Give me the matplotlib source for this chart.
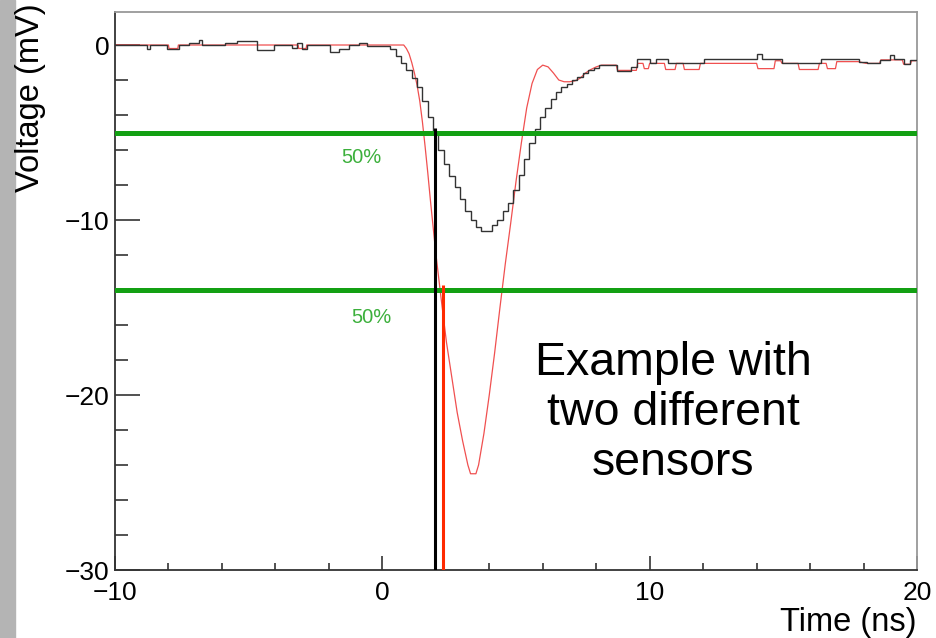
"""
Two sensor pulses with 50% threshold crossings (ROOT-style waveform plot).
"""

import numpy as np
import matplotlib
matplotlib.use("Agg")
import matplotlib.pyplot as plt
from matplotlib.patches import Rectangle

plt.rcParams['font.family'] = ['Liberation Sans', 'DejaVu Sans']

# sensor 1 (black, histogram-like trace)
black_base_edges = [-10, -8.8, -8.68, -8.05, -7.62, -7.25, -6.85, -6.75, -5.87, -5.44, -4.69,
                    -4.07, -3.38, -3.2, -3.0, -2.82, -1.95, -1.63, -1.26, -0.89, -0.57, 0.1]
black_base_vals = [0, -0.2, 0, -0.2, 0, 0.1, 0.3, 0, 0.1, 0.25, -0.3,
                   0, -0.15, 0.1, -0.2, 0, -0.4, -0.2, 0, 0.1, -0.05]
black_pulse_vals = [-0.05, -0.2, -0.6, -1.0, -1.4, -1.9, -2.4, -3.2, -4.1, -5.1,
                    -6.0, -6.8, -7.5, -8.1, -8.8, -9.5, -10.0, -10.4, -10.6, -10.6,
                    -10.3, -10.0, -9.5, -9.0, -8.3, -7.4, -6.5, -5.6, -4.8, -4.1,
                    -3.6, -3.1, -2.7, -2.4, -2.2, -2.0, -1.8, -1.6, -1.4, -1.3, -1.15]
black_tail_edges = [8.3, 8.78, 9.3, 9.53, 10.03, 10.25, 10.68, 11.15, 12.05, 12.96, 13.5, 14.02,
                    14.2, 14.95, 16.4, 17.82, 18.13, 18.63, 19.0, 19.13, 19.5, 19.75, 20.0]
black_tail_vals = [-1.15, -1.5, -1.25, -0.8, -1.05, -0.8, -1.0, -1.05, -0.78, -0.82, -0.78,
                   -0.5, -0.82, -1.05, -0.82, -0.95, -1.05, -0.85, -0.55, -0.82, -1.1, -0.85]

# sensor 2 (red trace)
red_t = [-10, -8.0, -7.98, -7.65, -7.63, -3.15, -3.13, -2.85, -2.83, 0.8,
         0.9, 1.0, 1.1, 1.2, 1.3, 1.4, 1.5, 1.6, 1.7, 1.8, 1.9, 2.0,
         2.2, 2.4, 2.6, 2.8, 3.0, 3.2, 3.3, 3.5, 3.6, 3.8, 4.0, 4.2, 4.4, 4.6,
         4.8, 5.0, 5.2, 5.4, 5.6, 5.8, 6.0, 6.2, 6.4, 6.6, 6.8, 7.0, 7.2, 7.4,
         7.6, 7.8, 8.0, 8.2,
         8.75, 8.8, 9.5, 9.55, 9.75, 9.8, 9.95, 10.0, 10.55, 10.6, 10.95, 11.0,
         11.25, 11.3, 11.85, 11.9, 14.0, 14.05, 14.65, 14.7, 14.9, 14.95, 15.55,
         15.6, 16.3, 16.35, 16.6, 16.65, 16.95, 17.0, 17.8, 18.1, 18.6, 18.65,
         19.45, 19.5, 19.75, 19.8, 20.0]
red_v = [0, 0, -0.2, -0.2, 0, 0, -0.2, -0.2, 0, 0,
         -0.2, -0.5, -1.0, -1.6, -2.3, -3.2, -4.4, -5.8, -7.3, -8.9, -10.4, -11.9,
         -14.5, -17.0, -19.0, -21.0, -22.6, -24.0, -24.5, -24.5, -24.0, -22.2, -20.0, -17.6, -15.0, -12.5,
         -10.2, -7.8, -5.6, -3.6, -2.2, -1.4, -1.15, -1.25, -1.6, -2.0, -2.1, -2.1, -2.05, -1.9,
         -1.6, -1.4, -1.25, -1.15,
         -1.15, -1.45, -1.45, -1.05, -1.05, -1.35, -1.35, -1.05, -1.05, -1.4, -1.4, -1.05,
         -1.05, -1.4, -1.4, -1.05, -1.05, -1.35, -1.35, -0.9, -0.9, -1.05, -1.05,
         -1.4, -1.4, -1.05, -1.05, -1.35, -1.35, -0.95, -0.95, -1.05, -1.05, -0.85,
         -0.85, -1.1, -1.1, -0.9, -0.9]

# 50% thresholds and crossing times
black_thr = -5.05
red_thr = -14.0
black_t50 = 1.98
red_t50 = 2.27

fig = plt.figure(figsize=(9.36, 6.38), dpi=100)
ax = fig.add_axes([115 / 936, 1 - 570 / 638, 802 / 936, 558 / 638])

# gray strip at left edge of the slide
fig.patches.append(Rectangle((0, 0), 15 / 936, 1, transform=fig.transFigure,
                             color="#b4b4b4", zorder=0))

# black trace as stairs
pulse_edges = 0.1 + 0.2 * np.arange(len(black_pulse_vals) + 1)
edges = list(black_base_edges) + list(pulse_edges[1:]) + list(black_tail_edges[1:])
vals = list(black_base_vals) + list(black_pulse_vals) + list(black_tail_vals)

ax.plot(red_t, red_v, color="#f05050", linewidth=0.9, zorder=2)
ax.stairs(vals, edges, baseline=None, color="#333333", linewidth=1.0, zorder=3)

ax.axhline(black_thr, color="#13a013", linewidth=3.6, zorder=4)
ax.axhline(red_thr, color="#13a013", linewidth=3.6, zorder=4)

ax.vlines(black_t50, -30, black_thr + 0.3, color="black", linewidth=2.2, zorder=5)
ax.vlines(red_t50, -30, red_thr + 0.3, color="#ff2a00", linewidth=2.2, zorder=5)

ax.text(0.307, 0.740, "50%", transform=ax.transAxes, color="#3cb03c",
        fontsize=14.5, ha="center", va="center")
ax.text(0.320, 0.453, "50%", transform=ax.transAxes, color="#3cb03c",
        fontsize=14.5, ha="center", va="center")

ax.text(0.696, 0.282, "Example with\ntwo different\nsensors", transform=ax.transAxes,
        fontsize=33.5, ha="center", va="center", multialignment="center", linespacing=1.18)

ax.set_xlim(-10, 20)
ax.set_ylim(-30, 1.886)

ax.set_xticks([-10, 0, 10, 20])
ax.set_xticks(np.arange(-10, 21, 2), minor=True)
ax.set_yticks([-30, -20, -10, 0])
ax.set_yticks(np.arange(-30, 1, 2), minor=True)

ax.tick_params(axis="x", which="major", direction="in", length=10, width=1.2,
               labelsize=19, pad=8, top=False, color="#333333")
ax.tick_params(axis="x", which="minor", direction="in", length=5, width=1.2,
               top=False, color="#333333")
ax.tick_params(axis="y", which="major", direction="in", length=18, width=1.2,
               labelsize=19, pad=4, right=False, color="#333333")
ax.tick_params(axis="y", which="minor", direction="in", length=9.4, width=1.2,
               right=False, color="#333333")

for side in ["left", "bottom"]:
    ax.spines[side].set_color("#333333")
    ax.spines[side].set_linewidth(1.3)
for side in ["top", "right"]:
    ax.spines[side].set_color("#999999")
    ax.spines[side].set_linewidth(1.3)

ax.set_xlabel("Time (ns)", fontsize=23.5, loc="right")
ax.xaxis.set_label_coords(1.0, -0.066)
fig.text(31 / 936, 1 - 3 / 638, "Voltage (mV)", fontsize=23.5, rotation=90,
         ha="center", va="top")

fig.savefig("out.png", dpi=100)
